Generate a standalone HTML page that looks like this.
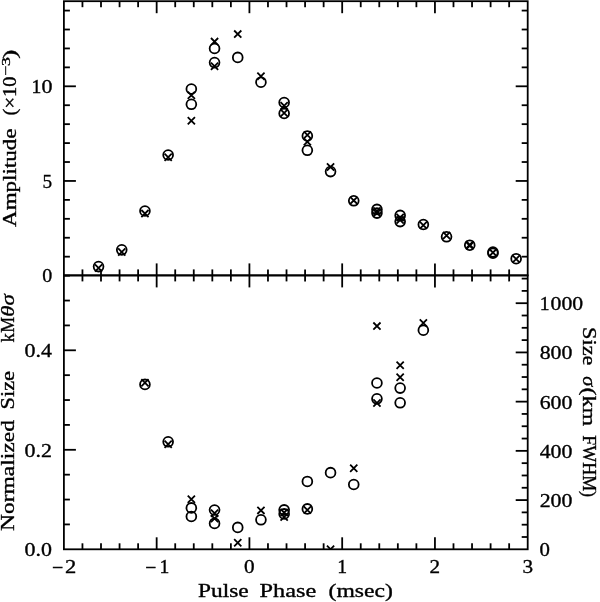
<!DOCTYPE html>
<html><head><meta charset="utf-8"><style>
html,body{margin:0;padding:0;background:#fff;}
svg{display:block;filter:grayscale(1);}
text{font-family:"Liberation Serif",serif;font-size:19px;fill:#000;stroke:#000;stroke-width:0.35px;}
text.d{font-size:19.7px;}
</style></head><body>
<svg width="600" height="602" viewBox="0 0 600 602">
<defs>
<clipPath id="ct"><rect x="63.9" y="1.2" width="463.80" height="274.20"/></clipPath>
<clipPath id="cb"><rect x="63.9" y="275.4" width="463.80" height="273.90"/></clipPath>
</defs>
<g stroke="#000" fill="none" stroke-linecap="butt">
<rect x="63.9" y="1.2" width="463.80" height="274.20" fill="none" stroke-width="1.8"/>
<rect x="63.9" y="275.4" width="463.80" height="273.90" fill="none" stroke-width="1.8"/>
<line x1="82.45" y1="1.20" x2="82.45" y2="7.20" stroke-width="1.8"/>
<line x1="82.45" y1="269.40" x2="82.45" y2="281.40" stroke-width="1.8"/>
<line x1="82.45" y1="543.30" x2="82.45" y2="549.30" stroke-width="1.8"/>
<line x1="101.00" y1="1.20" x2="101.00" y2="7.20" stroke-width="1.8"/>
<line x1="101.00" y1="269.40" x2="101.00" y2="281.40" stroke-width="1.8"/>
<line x1="101.00" y1="543.30" x2="101.00" y2="549.30" stroke-width="1.8"/>
<line x1="119.56" y1="1.20" x2="119.56" y2="7.20" stroke-width="1.8"/>
<line x1="119.56" y1="269.40" x2="119.56" y2="281.40" stroke-width="1.8"/>
<line x1="119.56" y1="543.30" x2="119.56" y2="549.30" stroke-width="1.8"/>
<line x1="138.11" y1="1.20" x2="138.11" y2="7.20" stroke-width="1.8"/>
<line x1="138.11" y1="269.40" x2="138.11" y2="281.40" stroke-width="1.8"/>
<line x1="138.11" y1="543.30" x2="138.11" y2="549.30" stroke-width="1.8"/>
<line x1="156.66" y1="1.20" x2="156.66" y2="13.20" stroke-width="1.8"/>
<line x1="156.66" y1="263.40" x2="156.66" y2="287.40" stroke-width="1.8"/>
<line x1="156.66" y1="537.30" x2="156.66" y2="549.30" stroke-width="1.8"/>
<line x1="175.21" y1="1.20" x2="175.21" y2="7.20" stroke-width="1.8"/>
<line x1="175.21" y1="269.40" x2="175.21" y2="281.40" stroke-width="1.8"/>
<line x1="175.21" y1="543.30" x2="175.21" y2="549.30" stroke-width="1.8"/>
<line x1="193.76" y1="1.20" x2="193.76" y2="7.20" stroke-width="1.8"/>
<line x1="193.76" y1="269.40" x2="193.76" y2="281.40" stroke-width="1.8"/>
<line x1="193.76" y1="543.30" x2="193.76" y2="549.30" stroke-width="1.8"/>
<line x1="212.32" y1="1.20" x2="212.32" y2="7.20" stroke-width="1.8"/>
<line x1="212.32" y1="269.40" x2="212.32" y2="281.40" stroke-width="1.8"/>
<line x1="212.32" y1="543.30" x2="212.32" y2="549.30" stroke-width="1.8"/>
<line x1="230.87" y1="1.20" x2="230.87" y2="7.20" stroke-width="1.8"/>
<line x1="230.87" y1="269.40" x2="230.87" y2="281.40" stroke-width="1.8"/>
<line x1="230.87" y1="543.30" x2="230.87" y2="549.30" stroke-width="1.8"/>
<line x1="249.42" y1="1.20" x2="249.42" y2="13.20" stroke-width="1.8"/>
<line x1="249.42" y1="263.40" x2="249.42" y2="287.40" stroke-width="1.8"/>
<line x1="249.42" y1="537.30" x2="249.42" y2="549.30" stroke-width="1.8"/>
<line x1="267.97" y1="1.20" x2="267.97" y2="7.20" stroke-width="1.8"/>
<line x1="267.97" y1="269.40" x2="267.97" y2="281.40" stroke-width="1.8"/>
<line x1="267.97" y1="543.30" x2="267.97" y2="549.30" stroke-width="1.8"/>
<line x1="286.52" y1="1.20" x2="286.52" y2="7.20" stroke-width="1.8"/>
<line x1="286.52" y1="269.40" x2="286.52" y2="281.40" stroke-width="1.8"/>
<line x1="286.52" y1="543.30" x2="286.52" y2="549.30" stroke-width="1.8"/>
<line x1="305.08" y1="1.20" x2="305.08" y2="7.20" stroke-width="1.8"/>
<line x1="305.08" y1="269.40" x2="305.08" y2="281.40" stroke-width="1.8"/>
<line x1="305.08" y1="543.30" x2="305.08" y2="549.30" stroke-width="1.8"/>
<line x1="323.63" y1="1.20" x2="323.63" y2="7.20" stroke-width="1.8"/>
<line x1="323.63" y1="269.40" x2="323.63" y2="281.40" stroke-width="1.8"/>
<line x1="323.63" y1="543.30" x2="323.63" y2="549.30" stroke-width="1.8"/>
<line x1="342.18" y1="1.20" x2="342.18" y2="13.20" stroke-width="1.8"/>
<line x1="342.18" y1="263.40" x2="342.18" y2="287.40" stroke-width="1.8"/>
<line x1="342.18" y1="537.30" x2="342.18" y2="549.30" stroke-width="1.8"/>
<line x1="360.73" y1="1.20" x2="360.73" y2="7.20" stroke-width="1.8"/>
<line x1="360.73" y1="269.40" x2="360.73" y2="281.40" stroke-width="1.8"/>
<line x1="360.73" y1="543.30" x2="360.73" y2="549.30" stroke-width="1.8"/>
<line x1="379.28" y1="1.20" x2="379.28" y2="7.20" stroke-width="1.8"/>
<line x1="379.28" y1="269.40" x2="379.28" y2="281.40" stroke-width="1.8"/>
<line x1="379.28" y1="543.30" x2="379.28" y2="549.30" stroke-width="1.8"/>
<line x1="397.84" y1="1.20" x2="397.84" y2="7.20" stroke-width="1.8"/>
<line x1="397.84" y1="269.40" x2="397.84" y2="281.40" stroke-width="1.8"/>
<line x1="397.84" y1="543.30" x2="397.84" y2="549.30" stroke-width="1.8"/>
<line x1="416.39" y1="1.20" x2="416.39" y2="7.20" stroke-width="1.8"/>
<line x1="416.39" y1="269.40" x2="416.39" y2="281.40" stroke-width="1.8"/>
<line x1="416.39" y1="543.30" x2="416.39" y2="549.30" stroke-width="1.8"/>
<line x1="434.94" y1="1.20" x2="434.94" y2="13.20" stroke-width="1.8"/>
<line x1="434.94" y1="263.40" x2="434.94" y2="287.40" stroke-width="1.8"/>
<line x1="434.94" y1="537.30" x2="434.94" y2="549.30" stroke-width="1.8"/>
<line x1="453.49" y1="1.20" x2="453.49" y2="7.20" stroke-width="1.8"/>
<line x1="453.49" y1="269.40" x2="453.49" y2="281.40" stroke-width="1.8"/>
<line x1="453.49" y1="543.30" x2="453.49" y2="549.30" stroke-width="1.8"/>
<line x1="472.04" y1="1.20" x2="472.04" y2="7.20" stroke-width="1.8"/>
<line x1="472.04" y1="269.40" x2="472.04" y2="281.40" stroke-width="1.8"/>
<line x1="472.04" y1="543.30" x2="472.04" y2="549.30" stroke-width="1.8"/>
<line x1="490.60" y1="1.20" x2="490.60" y2="7.20" stroke-width="1.8"/>
<line x1="490.60" y1="269.40" x2="490.60" y2="281.40" stroke-width="1.8"/>
<line x1="490.60" y1="543.30" x2="490.60" y2="549.30" stroke-width="1.8"/>
<line x1="509.15" y1="1.20" x2="509.15" y2="7.20" stroke-width="1.8"/>
<line x1="509.15" y1="269.40" x2="509.15" y2="281.40" stroke-width="1.8"/>
<line x1="509.15" y1="543.30" x2="509.15" y2="549.30" stroke-width="1.8"/>
<line x1="63.90" y1="256.67" x2="69.90" y2="256.67" stroke-width="1.8"/>
<line x1="521.70" y1="256.67" x2="527.70" y2="256.67" stroke-width="1.8"/>
<line x1="63.90" y1="237.74" x2="69.90" y2="237.74" stroke-width="1.8"/>
<line x1="521.70" y1="237.74" x2="527.70" y2="237.74" stroke-width="1.8"/>
<line x1="63.90" y1="218.81" x2="69.90" y2="218.81" stroke-width="1.8"/>
<line x1="521.70" y1="218.81" x2="527.70" y2="218.81" stroke-width="1.8"/>
<line x1="63.90" y1="199.88" x2="69.90" y2="199.88" stroke-width="1.8"/>
<line x1="521.70" y1="199.88" x2="527.70" y2="199.88" stroke-width="1.8"/>
<line x1="63.90" y1="180.95" x2="75.90" y2="180.95" stroke-width="1.8"/>
<line x1="515.70" y1="180.95" x2="527.70" y2="180.95" stroke-width="1.8"/>
<line x1="63.90" y1="162.02" x2="69.90" y2="162.02" stroke-width="1.8"/>
<line x1="521.70" y1="162.02" x2="527.70" y2="162.02" stroke-width="1.8"/>
<line x1="63.90" y1="143.09" x2="69.90" y2="143.09" stroke-width="1.8"/>
<line x1="521.70" y1="143.09" x2="527.70" y2="143.09" stroke-width="1.8"/>
<line x1="63.90" y1="124.16" x2="69.90" y2="124.16" stroke-width="1.8"/>
<line x1="521.70" y1="124.16" x2="527.70" y2="124.16" stroke-width="1.8"/>
<line x1="63.90" y1="105.23" x2="69.90" y2="105.23" stroke-width="1.8"/>
<line x1="521.70" y1="105.23" x2="527.70" y2="105.23" stroke-width="1.8"/>
<line x1="63.90" y1="86.30" x2="75.90" y2="86.30" stroke-width="1.8"/>
<line x1="515.70" y1="86.30" x2="527.70" y2="86.30" stroke-width="1.8"/>
<line x1="63.90" y1="67.37" x2="69.90" y2="67.37" stroke-width="1.8"/>
<line x1="521.70" y1="67.37" x2="527.70" y2="67.37" stroke-width="1.8"/>
<line x1="63.90" y1="48.44" x2="69.90" y2="48.44" stroke-width="1.8"/>
<line x1="521.70" y1="48.44" x2="527.70" y2="48.44" stroke-width="1.8"/>
<line x1="63.90" y1="29.51" x2="69.90" y2="29.51" stroke-width="1.8"/>
<line x1="521.70" y1="29.51" x2="527.70" y2="29.51" stroke-width="1.8"/>
<line x1="63.90" y1="10.58" x2="69.90" y2="10.58" stroke-width="1.8"/>
<line x1="521.70" y1="10.58" x2="527.70" y2="10.58" stroke-width="1.8"/>
<line x1="63.90" y1="524.42" x2="69.90" y2="524.42" stroke-width="1.8"/>
<line x1="63.90" y1="499.55" x2="69.90" y2="499.55" stroke-width="1.8"/>
<line x1="63.90" y1="474.67" x2="69.90" y2="474.67" stroke-width="1.8"/>
<line x1="63.90" y1="449.80" x2="75.90" y2="449.80" stroke-width="1.8"/>
<line x1="63.90" y1="424.92" x2="69.90" y2="424.92" stroke-width="1.8"/>
<line x1="63.90" y1="400.05" x2="69.90" y2="400.05" stroke-width="1.8"/>
<line x1="63.90" y1="375.17" x2="69.90" y2="375.17" stroke-width="1.8"/>
<line x1="63.90" y1="350.30" x2="75.90" y2="350.30" stroke-width="1.8"/>
<line x1="63.90" y1="325.42" x2="69.90" y2="325.42" stroke-width="1.8"/>
<line x1="63.90" y1="300.55" x2="69.90" y2="300.55" stroke-width="1.8"/>
<line x1="63.90" y1="275.67" x2="69.90" y2="275.67" stroke-width="1.8"/>
<line x1="521.70" y1="537.00" x2="527.70" y2="537.00" stroke-width="1.8"/>
<line x1="521.70" y1="524.69" x2="527.70" y2="524.69" stroke-width="1.8"/>
<line x1="521.70" y1="512.38" x2="527.70" y2="512.38" stroke-width="1.8"/>
<line x1="515.70" y1="500.08" x2="527.70" y2="500.08" stroke-width="1.8"/>
<line x1="521.70" y1="487.77" x2="527.70" y2="487.77" stroke-width="1.8"/>
<line x1="521.70" y1="475.47" x2="527.70" y2="475.47" stroke-width="1.8"/>
<line x1="521.70" y1="463.16" x2="527.70" y2="463.16" stroke-width="1.8"/>
<line x1="515.70" y1="450.86" x2="527.70" y2="450.86" stroke-width="1.8"/>
<line x1="521.70" y1="438.55" x2="527.70" y2="438.55" stroke-width="1.8"/>
<line x1="521.70" y1="426.25" x2="527.70" y2="426.25" stroke-width="1.8"/>
<line x1="521.70" y1="413.94" x2="527.70" y2="413.94" stroke-width="1.8"/>
<line x1="515.70" y1="401.64" x2="527.70" y2="401.64" stroke-width="1.8"/>
<line x1="521.70" y1="389.33" x2="527.70" y2="389.33" stroke-width="1.8"/>
<line x1="521.70" y1="377.03" x2="527.70" y2="377.03" stroke-width="1.8"/>
<line x1="521.70" y1="364.72" x2="527.70" y2="364.72" stroke-width="1.8"/>
<line x1="515.70" y1="352.42" x2="527.70" y2="352.42" stroke-width="1.8"/>
<line x1="521.70" y1="340.11" x2="527.70" y2="340.11" stroke-width="1.8"/>
<line x1="521.70" y1="327.81" x2="527.70" y2="327.81" stroke-width="1.8"/>
<line x1="521.70" y1="315.50" x2="527.70" y2="315.50" stroke-width="1.8"/>
<line x1="515.70" y1="303.20" x2="527.70" y2="303.20" stroke-width="1.8"/>
<line x1="521.70" y1="290.89" x2="527.70" y2="290.89" stroke-width="1.8"/>
<line x1="521.70" y1="278.59" x2="527.70" y2="278.59" stroke-width="1.8"/>
<g clip-path="url(#ct)">
<circle cx="98.55" cy="266.60" r="4.9" fill="none" stroke-width="1.8"/>
<path d="M94.95 264.40L102.15 271.60M94.95 271.60L102.15 264.40" stroke-width="1.8"/>
<circle cx="121.75" cy="249.85" r="4.9" fill="none" stroke-width="1.8"/>
<path d="M118.15 248.40L125.35 255.60M118.15 255.60L125.35 248.40" stroke-width="1.8"/>
<circle cx="144.95" cy="211.00" r="4.9" fill="none" stroke-width="1.8"/>
<path d="M141.35 210.00L148.55 217.20M141.35 217.20L148.55 210.00" stroke-width="1.8"/>
<circle cx="168.15" cy="155.00" r="4.9" fill="none" stroke-width="1.8"/>
<path d="M164.55 153.70L171.75 160.90M164.55 160.90L171.75 153.70" stroke-width="1.8"/>
<circle cx="191.35" cy="89.00" r="4.9" fill="none" stroke-width="1.8"/>
<circle cx="191.35" cy="104.30" r="4.9" fill="none" stroke-width="1.8"/>
<path d="M187.75 91.60L194.95 98.80M187.75 98.80L194.95 91.60" stroke-width="1.8"/>
<path d="M187.75 117.10L194.95 124.30M187.75 124.30L194.95 117.10" stroke-width="1.8"/>
<circle cx="214.55" cy="48.50" r="4.9" fill="none" stroke-width="1.8"/>
<circle cx="214.55" cy="62.60" r="4.9" fill="none" stroke-width="1.8"/>
<path d="M210.95 38.00L218.15 45.20M210.95 45.20L218.15 38.00" stroke-width="1.8"/>
<path d="M210.95 62.60L218.15 69.80M210.95 69.80L218.15 62.60" stroke-width="1.8"/>
<circle cx="237.75" cy="57.40" r="4.9" fill="none" stroke-width="1.8"/>
<path d="M234.15 30.50L241.35 37.70M234.15 37.70L241.35 30.50" stroke-width="1.8"/>
<circle cx="260.95" cy="82.20" r="4.9" fill="none" stroke-width="1.8"/>
<path d="M257.35 72.70L264.55 79.90M257.35 79.90L264.55 72.70" stroke-width="1.8"/>
<circle cx="284.15" cy="102.50" r="4.9" fill="none" stroke-width="1.8"/>
<circle cx="284.15" cy="113.40" r="4.9" fill="none" stroke-width="1.8"/>
<path d="M280.55 102.20L287.75 109.40M280.55 109.40L287.75 102.20" stroke-width="1.8"/>
<path d="M280.55 109.40L287.75 116.60M280.55 116.60L287.75 109.40" stroke-width="1.8"/>
<circle cx="307.35" cy="136.00" r="4.9" fill="none" stroke-width="1.8"/>
<circle cx="307.35" cy="150.30" r="4.9" fill="none" stroke-width="1.8"/>
<path d="M303.75 131.40L310.95 138.60M303.75 138.60L310.95 131.40" stroke-width="1.8"/>
<path d="M303.75 138.20L310.95 145.40M303.75 145.40L310.95 138.20" stroke-width="1.8"/>
<circle cx="330.55" cy="171.60" r="4.9" fill="none" stroke-width="1.8"/>
<path d="M326.95 163.40L334.15 170.60M326.95 170.60L334.15 163.40" stroke-width="1.8"/>
<circle cx="353.75" cy="200.80" r="4.9" fill="none" stroke-width="1.8"/>
<path d="M350.15 196.80L357.35 204.00M350.15 204.00L357.35 196.80" stroke-width="1.8"/>
<circle cx="376.95" cy="209.40" r="4.9" fill="none" stroke-width="1.8"/>
<circle cx="376.95" cy="213.10" r="4.9" fill="none" stroke-width="1.8"/>
<path d="M373.35 207.40L380.55 214.60M373.35 214.60L380.55 207.40" stroke-width="1.8"/>
<path d="M373.35 209.40L380.55 216.60M373.35 216.60L380.55 209.40" stroke-width="1.8"/>
<circle cx="400.15" cy="215.40" r="4.9" fill="none" stroke-width="1.8"/>
<circle cx="400.15" cy="221.60" r="4.9" fill="none" stroke-width="1.8"/>
<path d="M396.55 213.90L403.75 221.10M396.55 221.10L403.75 213.90" stroke-width="1.8"/>
<path d="M396.55 216.40L403.75 223.60M396.55 223.60L403.75 216.40" stroke-width="1.8"/>
<circle cx="423.35" cy="224.50" r="4.9" fill="none" stroke-width="1.8"/>
<path d="M419.75 221.60L426.95 228.80M419.75 228.80L426.95 221.60" stroke-width="1.8"/>
<circle cx="446.55" cy="236.80" r="4.9" fill="none" stroke-width="1.8"/>
<path d="M442.95 231.90L450.15 239.10M442.95 239.10L450.15 231.90" stroke-width="1.8"/>
<circle cx="469.75" cy="245.20" r="4.9" fill="none" stroke-width="1.8"/>
<path d="M466.15 241.20L473.35 248.40M466.15 248.40L473.35 241.20" stroke-width="1.8"/>
<path d="M466.15 242.20L473.35 249.40M466.15 249.40L473.35 242.20" stroke-width="1.8"/>
<circle cx="492.95" cy="252.10" r="4.9" fill="none" stroke-width="1.8"/>
<circle cx="492.95" cy="253.20" r="4.9" fill="none" stroke-width="1.8"/>
<path d="M489.35 249.00L496.55 256.20M489.35 256.20L496.55 249.00" stroke-width="1.8"/>
<circle cx="516.15" cy="258.70" r="4.9" fill="none" stroke-width="1.8"/>
<path d="M512.55 255.40L519.75 262.60M512.55 262.60L519.75 255.40" stroke-width="1.8"/>
</g><g clip-path="url(#cb)">
<circle cx="144.95" cy="384.40" r="4.9" fill="none" stroke-width="1.8"/>
<path d="M141.35 379.20L148.55 386.40M141.35 386.40L148.55 379.20" stroke-width="1.8"/>
<circle cx="168.15" cy="441.80" r="4.9" fill="none" stroke-width="1.8"/>
<path d="M164.55 440.60L171.75 447.80M164.55 447.80L171.75 440.60" stroke-width="1.8"/>
<circle cx="191.35" cy="507.90" r="4.9" fill="none" stroke-width="1.8"/>
<circle cx="191.35" cy="516.50" r="4.9" fill="none" stroke-width="1.8"/>
<path d="M187.75 495.60L194.95 502.80M187.75 502.80L194.95 495.60" stroke-width="1.8"/>
<circle cx="214.55" cy="510.00" r="4.9" fill="none" stroke-width="1.8"/>
<circle cx="214.55" cy="523.40" r="4.9" fill="none" stroke-width="1.8"/>
<path d="M210.95 509.60L218.15 516.80M210.95 516.80L218.15 509.60" stroke-width="1.8"/>
<path d="M210.95 514.90L218.15 522.10M210.95 522.10L218.15 514.90" stroke-width="1.8"/>
<circle cx="237.75" cy="527.40" r="4.9" fill="none" stroke-width="1.8"/>
<path d="M234.15 539.20L241.35 546.40M234.15 546.40L241.35 539.20" stroke-width="1.8"/>
<circle cx="260.95" cy="519.80" r="4.9" fill="none" stroke-width="1.8"/>
<path d="M257.35 506.80L264.55 514.00M257.35 514.00L264.55 506.80" stroke-width="1.8"/>
<circle cx="284.15" cy="509.90" r="4.9" fill="none" stroke-width="1.8"/>
<circle cx="284.15" cy="513.90" r="4.9" fill="none" stroke-width="1.8"/>
<path d="M280.55 509.00L287.75 516.20M280.55 516.20L287.75 509.00" stroke-width="1.8"/>
<path d="M280.55 513.40L287.75 520.60M280.55 520.60L287.75 513.40" stroke-width="1.8"/>
<circle cx="307.35" cy="481.45" r="4.9" fill="none" stroke-width="1.8"/>
<circle cx="307.35" cy="508.90" r="4.9" fill="none" stroke-width="1.8"/>
<path d="M303.75 506.40L310.95 513.60M303.75 513.60L310.95 506.40" stroke-width="1.8"/>
<circle cx="330.55" cy="472.65" r="4.9" fill="none" stroke-width="1.8"/>
<path d="M326.95 545.70L334.15 552.90M326.95 552.90L334.15 545.70" stroke-width="1.8"/>
<circle cx="353.75" cy="484.50" r="4.9" fill="none" stroke-width="1.8"/>
<path d="M350.15 464.70L357.35 471.90M350.15 471.90L357.35 464.70" stroke-width="1.8"/>
<circle cx="376.95" cy="383.00" r="4.9" fill="none" stroke-width="1.8"/>
<circle cx="376.95" cy="398.80" r="4.9" fill="none" stroke-width="1.8"/>
<path d="M373.35 322.50L380.55 329.70M373.35 329.70L380.55 322.50" stroke-width="1.8"/>
<path d="M373.35 399.40L380.55 406.60M373.35 406.60L380.55 399.40" stroke-width="1.8"/>
<circle cx="400.15" cy="388.10" r="4.9" fill="none" stroke-width="1.8"/>
<circle cx="400.15" cy="402.80" r="4.9" fill="none" stroke-width="1.8"/>
<path d="M396.55 361.70L403.75 368.90M396.55 368.90L403.75 361.70" stroke-width="1.8"/>
<path d="M396.55 373.60L403.75 380.80M396.55 380.80L403.75 373.60" stroke-width="1.8"/>
<circle cx="423.35" cy="330.20" r="4.9" fill="none" stroke-width="1.8"/>
<path d="M419.75 319.40L426.95 326.60M419.75 326.60L426.95 319.40" stroke-width="1.8"/>
</g>
</g>
<g>
<text x="41.60" y="93.00" textLength="11.00" lengthAdjust="spacingAndGlyphs" class="d">0</text>
<text class="d" x="31.54" y="93.00">1</text>
<text x="42.40" y="187.65" textLength="9.60" lengthAdjust="spacingAndGlyphs" class="d">5</text>
<text x="42.20" y="282.30" textLength="10.00" lengthAdjust="spacingAndGlyphs" class="d">0</text>
<text x="24.60" y="357.00" textLength="27.40" lengthAdjust="spacingAndGlyphs" class="d">0.4</text>
<text x="24.60" y="456.50" textLength="27.40" lengthAdjust="spacingAndGlyphs" class="d">0.2</text>
<text x="24.60" y="556.00" textLength="27.40" lengthAdjust="spacingAndGlyphs" class="d">0.0</text>
<text x="550.60" y="310.10" textLength="32.60" lengthAdjust="spacingAndGlyphs" class="d">000</text>
<text class="d" x="539.74" y="310.10">1</text>
<text x="539.70" y="359.32" textLength="32.80" lengthAdjust="spacingAndGlyphs" class="d">800</text>
<text x="539.70" y="408.54" textLength="32.80" lengthAdjust="spacingAndGlyphs" class="d">600</text>
<text x="539.70" y="457.76" textLength="32.80" lengthAdjust="spacingAndGlyphs" class="d">400</text>
<text x="539.70" y="506.98" textLength="32.80" lengthAdjust="spacingAndGlyphs" class="d">200</text>
<text x="539.60" y="556.20" textLength="10.40" lengthAdjust="spacingAndGlyphs" class="d">0</text>
<text x="52.10" y="573.70" textLength="11.30" lengthAdjust="spacingAndGlyphs" class="d">−</text>
<text x="65.10" y="573.00" textLength="11.30" lengthAdjust="spacingAndGlyphs" class="d">2</text>
<text x="145.26" y="573.70" textLength="11.10" lengthAdjust="spacingAndGlyphs" class="d">−</text>
<text class="d" x="159.60" y="573.00">1</text>
<text x="244.12" y="573.00" textLength="10.60" lengthAdjust="spacingAndGlyphs" class="d">0</text>
<text class="d" x="337.22" y="573.00">1</text>
<text x="429.64" y="573.00" textLength="10.60" lengthAdjust="spacingAndGlyphs" class="d">2</text>
<text x="522.40" y="573.00" textLength="10.60" lengthAdjust="spacingAndGlyphs" class="d">3</text>
<text x="198.00" y="597.20" textLength="50.70" lengthAdjust="spacingAndGlyphs" >Pulse</text>
<text x="259.60" y="597.20" textLength="56.60" lengthAdjust="spacingAndGlyphs" >Phase</text>
<text x="328.60" y="597.20" textLength="64.30" lengthAdjust="spacingAndGlyphs" >(msec)</text>
<text transform="translate(16.20,227.00) rotate(-90)" x="0" y="0" textLength="98.50" lengthAdjust="spacingAndGlyphs" >Amplitude</text>
<text transform="translate(16.20,115.40) rotate(-90)" x="0" y="0" textLength="38.80" lengthAdjust="spacingAndGlyphs" >(×10</text>
<text transform="translate(10.00,76.00) rotate(-90)" x="0" y="0" textLength="18.80" lengthAdjust="spacingAndGlyphs" style="font-size:12.5px">−3</text>
<text transform="translate(16.20,58.70) rotate(-90)" x="0" y="0" textLength="9.10" lengthAdjust="spacingAndGlyphs" >)</text>
<text transform="translate(14.20,530.90) rotate(-90)" x="0" y="0" textLength="110.80" lengthAdjust="spacingAndGlyphs" >Normalized</text>
<text transform="translate(14.20,409.60) rotate(-90)" x="0" y="0" textLength="38.70" lengthAdjust="spacingAndGlyphs" >Size</text>
<text transform="translate(14.20,342.50) rotate(-90)" x="0" y="0" textLength="9.40" lengthAdjust="spacingAndGlyphs" >k</text>
<text transform="translate(14.20,332.80) rotate(-90)" x="0" y="0" textLength="15.90" lengthAdjust="spacingAndGlyphs" >M</text>
<text transform="translate(14.20,316.70) rotate(-90)" x="0" y="0" textLength="22.40" lengthAdjust="spacingAndGlyphs" font-style="italic">θσ</text>
<text transform="translate(582.50,327.10) rotate(90)" x="0" y="0" textLength="38.30" lengthAdjust="spacingAndGlyphs" >Size</text>
<text transform="translate(582.50,376.20) rotate(90)" x="0" y="0" textLength="10.10" lengthAdjust="spacingAndGlyphs" font-style="italic">σ</text>
<text transform="translate(582.50,387.50) rotate(90)" x="0" y="0" textLength="38.70" lengthAdjust="spacingAndGlyphs" >(km</text>
<text transform="translate(582.50,435.30) rotate(90)" x="0" y="0" textLength="61.80" lengthAdjust="spacingAndGlyphs" >FWHM)</text>
</g>
</svg>
</body></html>
